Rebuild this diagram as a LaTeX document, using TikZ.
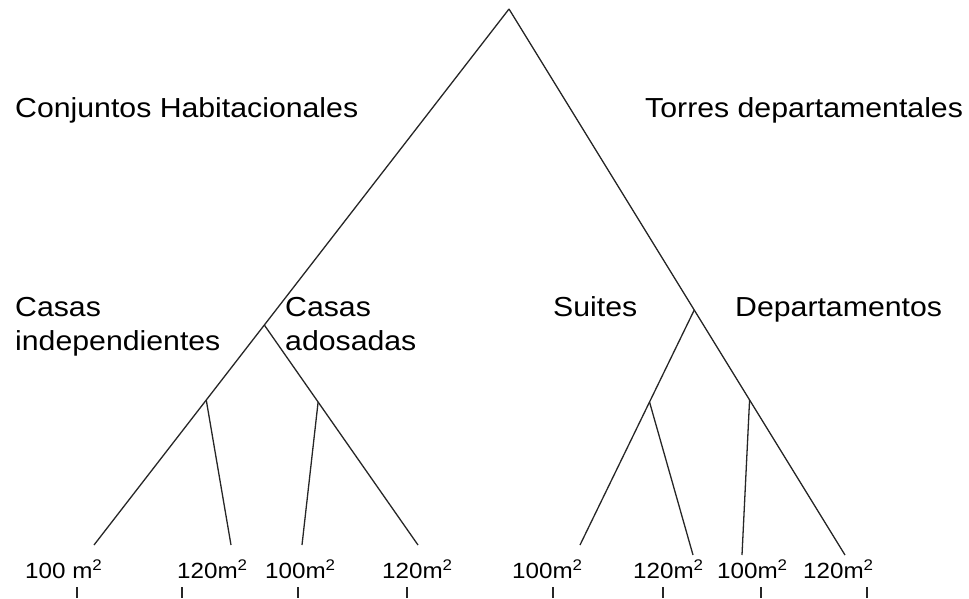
\documentclass[tikz,border=0pt]{standalone}
\usepackage{fontspec}
\setmainfont[FakeStretch=1.1]{Liberation Sans}
\usetikzlibrary{calc}
\begin{document}
\begin{tikzpicture}[x=1pt,y=-1pt,
  branch/.style={draw=black!85,line width=1.3pt},
  tick/.style={draw=black!85,line width=1.3pt},
  toplab/.style={anchor=base west,inner sep=0pt,font=\fontsize{27.5}{32}\selectfont},
  midlab/.style={anchor=base west,inner sep=0pt,align=left,font=\fontsize{27.5}{34}\selectfont},
  leaflab/.style={anchor=base west,inner sep=0pt,font=\fontsize{22}{26}\selectfont}]
\useasboundingbox (0,0) rectangle (969,598);
% tree points
\coordinate (A) at (509,9);
\coordinate (L1) at (94,545);
\coordinate (L2) at (231,545);
\coordinate (L3) at (302,545);
\coordinate (L4) at (418,545);
\coordinate (R1) at (580,545);
\coordinate (R2) at (693,555);
\coordinate (R3) at (742,555);
\coordinate (R4) at (845,555);
\coordinate (J1) at ($(A)!0.5896!(L1)$);
\coordinate (J11) at ($(A)!0.7295!(L1)$);
\coordinate (J12) at ($(J1)!0.35!(L4)$);
\coordinate (J2) at ($(A)!0.5513!(R4)$);
\coordinate (J21) at ($(J2)!0.3915!(R1)$);
\coordinate (J22) at ($(A)!0.716!(R4)$);
% branches
\draw[branch] (A) -- (L1);
\draw[branch] (J1) -- (L4);
\draw[branch] (J11) -- (L2);
\draw[branch] (J12) -- (L3);
\draw[branch] (A) -- (R4);
\draw[branch] (J2) -- (R1);
\draw[branch] (J21) -- (R2);
\draw[branch] (J22) -- (R3);
% labels
\node[toplab] (conj) at (15,117) {Conjuntos Habitacionales};
\node[toplab] (torr) at (645,117) {Torres departamentales};
\node[midlab] (cind) at (15,350) {Casas\\independientes};
\node[midlab] (cado) at (285,350) {Casas\\adosadas};
\node[midlab] (suit) at (553,316) {Suites};
\node[midlab] (dept) at (735,316) {Departamentos};
\node[leaflab] (m1) at (25,578) {100 m\textsuperscript{2}};
\node[leaflab] (m2) at (177,578) {120m\textsuperscript{2}};
\node[leaflab] (m3) at (265,578) {100m\textsuperscript{2}};
\node[leaflab] (m4) at (382,578) {120m\textsuperscript{2}};
\node[leaflab] (m5) at (512,578) {100m\textsuperscript{2}};
\node[leaflab] (m6) at (633,578) {120m\textsuperscript{2}};
\node[leaflab] (m7) at (717,578) {100m\textsuperscript{2}};
\node[leaflab] (m8) at (803,578) {120m\textsuperscript{2}};
% ticks
\foreach \i/\x in {1/77,2/182,3/298,4/407,5/553,6/663,7/761,8/867}{
  \coordinate (t\i a) at (\x,587);
  \coordinate (t\i b) at (\x,598);
  \draw[tick] (t\i a) -- (t\i b);
}
\end{tikzpicture}
\end{document}
